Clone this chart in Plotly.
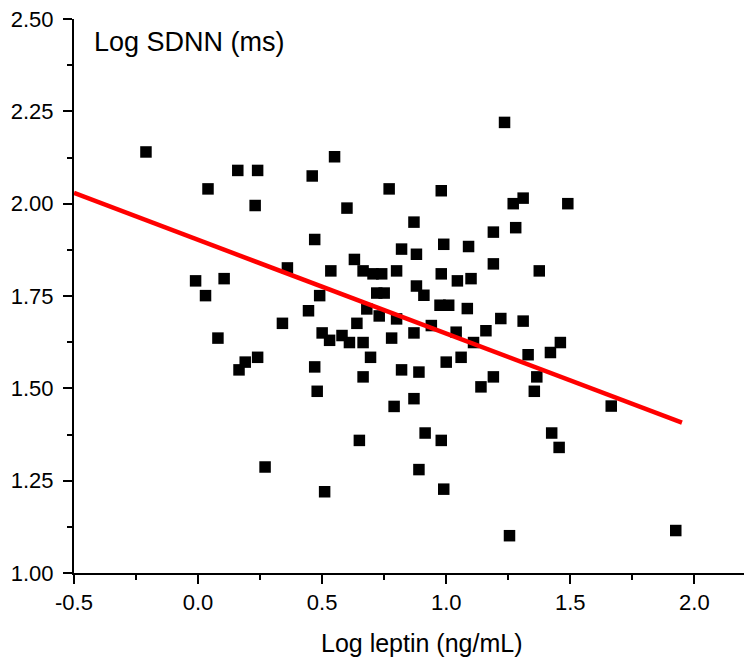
import plotly.graph_objects as go

leptin = [-0.21, 0.16, 0.24, 0.04, 0.23, 1.235, 0.55, 0.46, 0.77, 0.98,
          1.27, 1.31, 0.60, 0.87, 1.28, 1.19, 0.47, 0.82, 0.99, 0.88,
          1.09, 1.49, 0.36, -0.01, 0.105, 0.03, 0.34, 0.08, 0.24, 0.19,
          0.165, 0.63, 1.19, 0.535, 0.665, 0.705, 0.74, 0.80, 0.98, 1.045,
          1.10, 0.88, 0.91, 0.72, 0.75, 0.49, 0.445, 0.975, 1.01, 1.085,
          0.68, 0.73, 0.80, 1.22, 1.31, 0.64, 0.94, 0.50, 0.58, 0.87,
          1.04, 1.16, 0.53, 0.61, 0.665, 0.78, 1.11, 0.695, 1.06, 1.00,
          0.47, 0.82, 0.89, 0.665, 1.19, 1.14, 0.48, 0.87, 0.79, 1.375,
          1.46, 1.33, 1.42, 1.365, 1.355, 1.665, 0.27, 0.65, 0.915, 0.98,
          0.89, 0.51, 0.99, 1.255, 1.425, 1.455, 1.925]
sdnn = [2.14, 2.09, 2.09, 2.04, 1.995, 2.22, 2.127, 2.075, 2.04, 2.035,
        2.00, 2.015, 1.988, 1.95, 1.935, 1.923, 1.903, 1.877, 1.89, 1.863,
        1.884, 2.00, 1.826, 1.791, 1.797, 1.751, 1.676, 1.636, 1.584, 1.571,
        1.55, 1.849, 1.837, 1.818, 1.818, 1.81, 1.81, 1.818, 1.81, 1.791,
        1.797, 1.777, 1.752, 1.758, 1.758, 1.751, 1.71, 1.725, 1.725, 1.716,
        1.715, 1.696, 1.688, 1.689, 1.682, 1.676, 1.67, 1.65, 1.643, 1.65,
        1.652, 1.656, 1.63, 1.624, 1.624, 1.636, 1.624, 1.584, 1.584, 1.571,
        1.558, 1.55, 1.544, 1.531, 1.531, 1.504, 1.492, 1.472, 1.451, 1.818,
        1.624, 1.591, 1.597, 1.531, 1.492, 1.452, 1.287, 1.359, 1.379, 1.359,
        1.28, 1.22, 1.227, 1.101, 1.379, 1.34, 1.115]

fit_x = [-0.5, 1.95]
fit_y = [2.029, 1.407]

x_ticks = [-0.5, 0.0, 0.5, 1.0, 1.5, 2.0]
y_ticks = [1.00, 1.25, 1.50, 1.75, 2.00, 2.25, 2.50]

FONT = "Liberation Sans, Arial, sans-serif"

fig = go.Figure()
fig.add_trace(go.Scatter(
    x=leptin, y=sdnn, mode="markers",
    marker=dict(symbol="square", size=11.5, color="black", line=dict(width=0)),
    showlegend=False, cliponaxis=False,
))
fig.add_trace(go.Scatter(
    x=fit_x, y=fit_y, mode="lines",
    line=dict(color="#ff0000", width=4.5),
    showlegend=False,
))

fig.update_layout(
    width=744, height=659,
    margin=dict(l=74, r=0, t=19, b=86),
    plot_bgcolor="white", paper_bgcolor="white",
    font=dict(family=FONT, size=22, color="black"),
    xaxis=dict(
        range=[-0.5, 2.2], tickvals=x_ticks,
        ticktext=[f"{v:.1f}" for v in x_ticks],
        showgrid=False, zeroline=False,
        showline=True, linecolor="black", linewidth=2,
        ticks="outside", ticklen=9, tickwidth=2, tickcolor="black",
        minor=dict(dtick=0.25, tick0=-0.5, ticks="outside", ticklen=5, tickwidth=2, tickcolor="black"),
        tickfont=dict(size=22),
    ),
    yaxis=dict(
        range=[1.0, 2.5], tickvals=y_ticks,
        ticktext=[f"{v:.2f}" for v in y_ticks],
        showgrid=False, zeroline=False,
        showline=True, linecolor="black", linewidth=2,
        ticks="outside", ticklen=9, tickwidth=2, tickcolor="black",
        minor=dict(dtick=0.125, tick0=1.0, ticks="outside", ticklen=5, tickwidth=2, tickcolor="black"),
        tickfont=dict(size=22),
        ticklabelstandoff=5,
    ),
    annotations=[
        dict(text="Log SDNN (ms)", xref="paper", yref="paper",
             x=0.027, y=0.958, xanchor="left", yanchor="middle",
             showarrow=False, font=dict(size=27, family=FONT)),
        dict(text="Log leptin (ng/mL)", xref="paper", yref="paper",
             x=(422 - 74) / 670, y=-(643 - 573) / 554, xanchor="center", yanchor="middle",
             showarrow=False, font=dict(size=25, family=FONT)),
    ],
)

# remove the browser's default 8px body margin so the figure sits at the page corner
fig.write_html(
    "out.html",
    config={"displayModeBar": False},
    post_script="document.body.style.margin='0px';",
)
